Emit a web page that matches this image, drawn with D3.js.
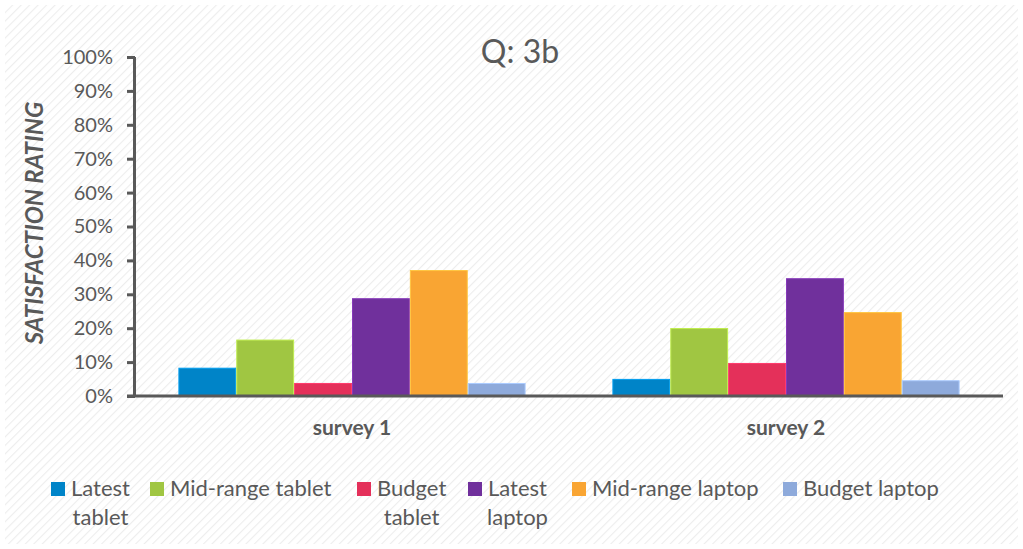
<!DOCTYPE html>
<html>
<head>
<meta charset="utf-8">
<script src="https://cdn.jsdelivr.net/npm/d3@7"></script>
<style>
  html, body { margin: 0; padding: 0; background: #ffffff; }
  svg { display: block; font-family: Lato, "Open Sans", sans-serif; }
</style>
</head>
<body>
<svg id="chart" width="1023" height="549"></svg>
<script>
// Survey groups along the x axis
const categories = ["survey 1", "survey 2"];

// Product series and their legend labels (split where the legend wraps)
const seriesNames = ["Latest tablet", "Mid-range tablet", "Budget tablet", "Latest laptop", "Mid-range laptop", "Budget laptop"];
const legendLines = [["Latest", "tablet"], ["Mid-range tablet"], ["Budget", "tablet"], ["Latest", "laptop"], ["Mid-range laptop"], ["Budget laptop"]];
const seriesColors = ["#0084c8", "#a0c642", "#e4305a", "#70309c", "#f9a533", "#8eaadb"];

// Satisfaction rating (%) per series, one entry per survey
const latestTablet    = [8.2, 4.9];
const midRangeTablet  = [16.5, 19.9];
const budgetTablet    = [3.7, 9.6];
const latestLaptop    = [28.7, 34.6];
const midRangeLaptop  = [37.0, 24.6];
const budgetLaptop    = [3.7, 4.5];
const seriesValues = [latestTablet, midRangeTablet, budgetTablet, latestLaptop, midRangeLaptop, budgetLaptop];

// Y tick values
const yTicks = [0, 10, 20, 30, 40, 50, 60, 70, 80, 90, 100];

const svg = d3.select("#chart");
const W = 1023, H = 549;
const textColor = "#595959";
const axisColor = "#595959";

// Diagonal hatch background
const defs = svg.append("defs");
const pat = defs.append("pattern")
  .attr("id", "hatch")
  .attr("patternUnits", "userSpaceOnUse")
  .attr("width", 6).attr("height", 6)
  .attr("patternTransform", "rotate(45)");
pat.append("rect").attr("width", 6).attr("height", 6).attr("fill", "#ffffff");
pat.append("line").attr("x1", 0).attr("y1", 0).attr("x2", 0).attr("y2", 6)
  .attr("stroke", "#ededed").attr("stroke-width", 2.2);

svg.append("rect").attr("x", 0).attr("y", 0).attr("width", W).attr("height", H).attr("fill", "#ffffff");
svg.append("rect").attr("x", 5).attr("y", 5).attr("width", W - 10).attr("height", H - 10).attr("fill", "url(#hatch)");

// Plot area
const plot = { left: 135, right: 1003, top: 57, bottom: 396 };

const x0 = d3.scaleBand()
  .domain(categories)
  .range([plot.left, plot.right])
  .paddingInner(0.2)
  .paddingOuter(0.1);

const x1 = d3.scaleBand()
  .domain(d3.range(seriesNames.length))
  .range([0, x0.bandwidth()])
  .padding(0);

const y = d3.scaleLinear().domain([0, 100]).range([plot.bottom, plot.top]);

// Title
svg.append("text")
  .attr("x", 520).attr("y", 63)
  .attr("text-anchor", "middle")
  .attr("font-size", 32)
  .attr("fill", textColor)
  .text("Q: 3b");

// Bars
const groups = svg.append("g").selectAll("g")
  .data(categories)
  .join("g")
  .attr("transform", d => `translate(${x0(d)},0)`);

groups.selectAll("rect")
  .data((d, ci) => seriesValues.map((vals, si) => ({ si, v: vals[ci] })))
  .join("rect")
  .attr("x", d => x1(d.si) + 0.5)
  .attr("width", x1.bandwidth() - 1)
  .attr("y", d => y(d.v))
  .attr("height", d => y(0) - y(d.v))
  .attr("fill", d => seriesColors[d.si])
  .attr("stroke", d => d3.color(seriesColors[d.si]).brighter(0.5))
  .attr("stroke-width", 1);

// Y axis
const yAxis = svg.append("g")
  .attr("transform", `translate(${plot.left},0)`)
  .call(d3.axisLeft(y).tickValues(yTicks).tickSize(8).tickPadding(14).tickFormat(d => d + "%"));
yAxis.select(".domain").attr("stroke", axisColor).attr("stroke-width", 3).attr("d", `M-0.5,${plot.top}V${plot.bottom}`);
yAxis.selectAll(".tick line").attr("stroke", axisColor).attr("stroke-width", 3);
yAxis.selectAll(".tick text").attr("fill", textColor).attr("font-size", 20).attr("font-family", "Lato, sans-serif");

// X axis
const xAxis = svg.append("g")
  .attr("transform", `translate(0,${plot.bottom})`)
  .call(d3.axisBottom(x0).tickSize(0).tickPadding(24));
xAxis.select(".domain").attr("stroke", axisColor).attr("stroke-width", 3).attr("d", `M${plot.left - 8},0H${plot.right}`);
xAxis.selectAll(".tick text")
  .attr("fill", textColor).attr("font-size", 21).attr("font-weight", "bold")
  .attr("font-family", "Lato, sans-serif");

// Y axis title
svg.append("text")
  .attr("transform", "translate(43,223) rotate(-90)")
  .attr("text-anchor", "middle")
  .attr("font-size", 24)
  .attr("font-weight", "bold")
  .attr("font-style", "italic")
  .attr("fill", textColor)
  .text("SATISFACTION RATING");

// Legend
const legendX = [51, 150, 357, 468, 572, 783];
const legend = svg.append("g").selectAll("g")
  .data(seriesNames)
  .join("g")
  .attr("transform", (d, i) => `translate(${legendX[i]},0)`);

legend.append("rect")
  .attr("x", 0).attr("y", 482)
  .attr("width", 14).attr("height", 14)
  .attr("fill", (d, i) => seriesColors[i]);

legend.each(function (d, i) {
  const g = d3.select(this);
  const lines = legendLines[i];
  const t1 = g.append("text")
    .attr("x", 20).attr("y", 496)
    .attr("font-size", 22).attr("fill", textColor)
    .text(lines[0]);
  if (lines.length > 1) {
    const w = t1.node().getComputedTextLength();
    g.append("text")
      .attr("x", 20 + w / 2).attr("y", 525)
      .attr("text-anchor", "middle")
      .attr("font-size", 22).attr("fill", textColor)
      .text(lines[1]);
  }
});
</script>
</body>
</html>
